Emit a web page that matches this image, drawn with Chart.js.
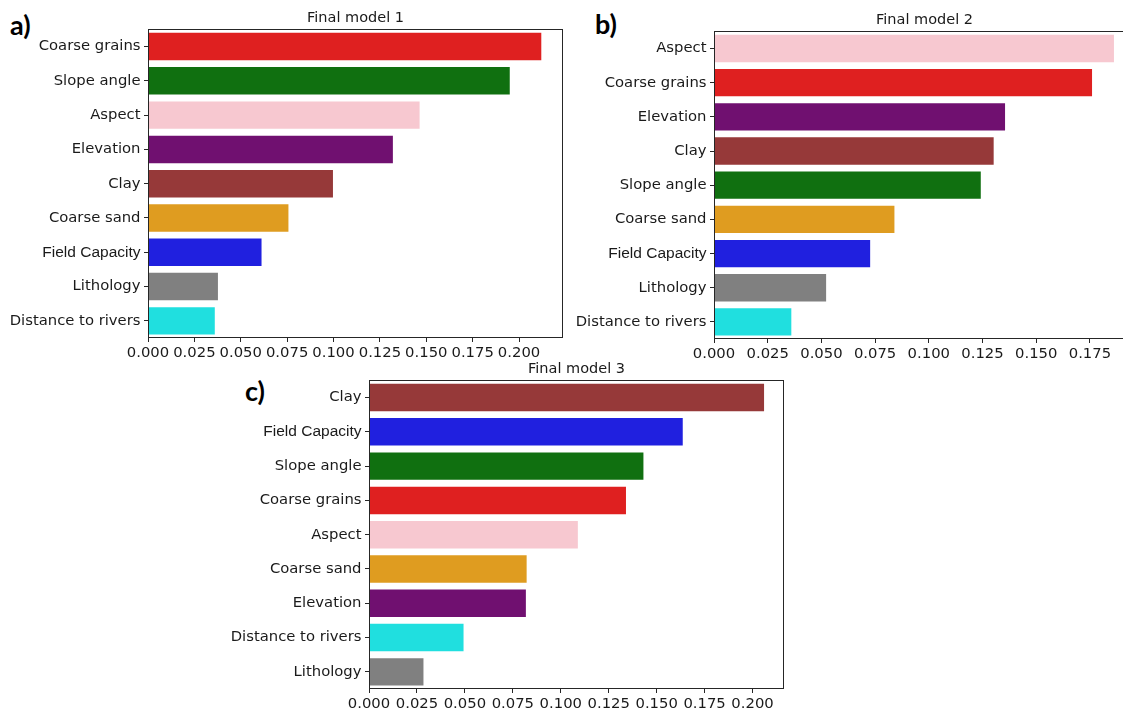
<!DOCTYPE html>
<html>
<head>
<meta charset="utf-8">
<script src="https://cdn.jsdelivr.net/npm/chart.js@4/dist/chart.umd.min.js"></script>
<style>
  html, body { margin: 0; padding: 0; background: #fff; overflow: hidden; width: 1123px; height: 709px; }
  canvas { position: absolute; }
  .tag { position: absolute; font-family: Lato, "Open Sans", sans-serif; font-weight: bold; font-size: 27px; line-height: 1; color: #000; }
</style>
</head>
<body>
<div class="tag" style="left:10px; top:11px;">a)</div>
<div class="tag" style="left:595px; top:10px;">b)</div>
<div class="tag" style="left:245px; top:377px;">c)</div>
<canvas id="chartA" width="563" height="358" style="left:0px; top:10px;"></canvas>
<canvas id="chartB" width="565" height="357" style="left:570px; top:12px;"></canvas>
<canvas id="chartC" width="564" height="358" style="left:220px; top:361px;"></canvas>
<script>
// datos
const labels1 = ["Coarse grains", "Slope angle", "Aspect", "Elevation", "Clay", "Coarse sand", "Field Capacity", "Lithology", "Distance to rivers"];
const values1 = [0.212, 0.195, 0.1464, 0.132, 0.0997, 0.0757, 0.0612, 0.0377, 0.036];

const labels2 = ["Aspect", "Coarse grains", "Elevation", "Clay", "Slope angle", "Coarse sand", "Field Capacity", "Lithology", "Distance to rivers"];
const values2 = [0.1862, 0.176, 0.1355, 0.1302, 0.1242, 0.084, 0.0727, 0.0522, 0.036];

const labels3 = ["Clay", "Field Capacity", "Slope angle", "Coarse grains", "Aspect", "Coarse sand", "Elevation", "Distance to rivers", "Lithology"];
const values3 = [0.206, 0.1636, 0.1431, 0.134, 0.1089, 0.0822, 0.0818, 0.0493, 0.0284];

const ticks1 = [0, 0.025, 0.05, 0.075, 0.1, 0.125, 0.15, 0.175, 0.2];
const ticks2 = [0, 0.025, 0.05, 0.075, 0.1, 0.125, 0.15, 0.175];
const ticks3 = [0, 0.025, 0.05, 0.075, 0.1, 0.125, 0.15, 0.175, 0.2];

// colores por variable (paleta seaborn desaturada)
const colores = {
  "Coarse grains": "#df2020",
  "Slope angle": "#107010",
  "Aspect": "#f7c8d0",
  "Elevation": "#701070",
  "Clay": "#963939",
  "Coarse sand": "#df9c20",
  "Field Capacity": "#2020df",
  "Lithology": "#808080",
  "Distance to rivers": "#20dfdf",
};

const INK = "#1a1a1a";
const SPINE = "#262626";

// marco completo alrededor del área del gráfico
const marco = {
  id: "marco",
  afterDraw(chart) {
    const { ctx, chartArea: a } = chart;
    ctx.save();
    ctx.strokeStyle = SPINE;
    ctx.lineWidth = 1;
    ctx.strokeRect(Math.round(a.left) + 0.5, Math.round(a.top) + 0.5,
      Math.round(a.right - a.left) - 1, Math.round(a.bottom - a.top) - 1);
    ctx.restore();
  },
};

function graficar(id, titulo, labels, values, tickValues, xMax, yWidth) {
  const ctx = document.getElementById(id).getContext("2d");
  new Chart(ctx, {
    type: "bar",
    data: {
      labels: labels,
      datasets: [{
        data: values,
        backgroundColor: labels.map(l => colores[l]),
        borderWidth: 0,
        categoryPercentage: 0.8,
        barPercentage: 1.0,
      }],
    },
    plugins: [marco],
    options: {
      indexAxis: "y",
      responsive: false,
      animation: false,
      layout: { padding: 0 },
      plugins: {
        legend: { display: false },
        tooltip: { enabled: false },
        title: {
          display: true,
          text: titulo,
          fullSize: false,
          color: INK,
          font: { family: "DejaVu Sans", size: 14.5, weight: "normal" },
          padding: { top: 0, bottom: 2 },
        },
      },
      scales: {
        x: {
          min: 0,
          max: xMax,
          afterBuildTicks: s => { s.ticks = tickValues.map(v => ({ value: v })); },
          afterFit: s => { s.height = 30; },
          grid: { drawOnChartArea: false, drawTicks: true, tickLength: 4, color: SPINE },
          border: { display: false },
          ticks: {
            color: INK,
            padding: 2,
            maxRotation: 0,
            autoSkip: false,
            font: { family: "DejaVu Sans", size: 14.8 },
            callback: v => Number(v).toFixed(3),
          },
        },
        y: {
          afterFit: s => { s.width = yWidth; },
          grid: { drawOnChartArea: false, drawTicks: true, tickLength: 4, offset: false, color: SPINE },
          border: { display: false },
          ticks: {
            color: INK,
            padding: 3.5,
            autoSkip: false,
            font: c => labels[c.index] === "Field Capacity"
              ? { family: "Liberation Sans", size: 15.5 }
              : { family: "DejaVu Sans", size: 14.8 },
          },
        },
      },
    },
  });
}

graficar("chartA", "Final model 1", labels1, values1, ticks1, 0.2237, 148);
graficar("chartB", "Final model 2", labels2, values2, ticks2, 0.196, 144);
graficar("chartC", "Final model 3", labels3, values3, ticks3, 0.2164, 149);
</script>
</body>
</html>
